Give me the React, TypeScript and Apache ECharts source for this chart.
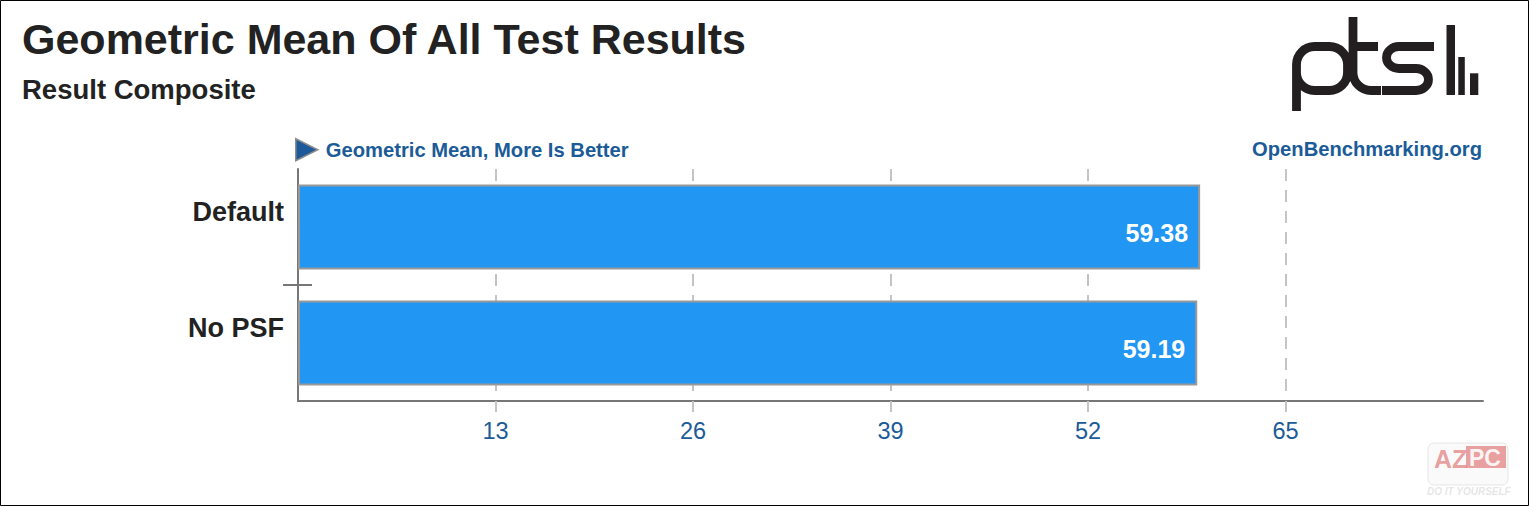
import React, { useEffect, useRef } from "react";
import * as echarts from "echarts";

const categories = ["Default", "No PSF"];
const values = [59.38, 59.19];
const seriesName = "Geometric Mean, More Is Better";
const axisMin = 0;
const axisMax = 78;
const axisInterval = 13;
const tickValues = [13, 26, 39, 52, 65];
const titleText = "Geometric Mean Of All Test Results";
const subtitleText = "Result Composite";
const siteText = "OpenBenchmarking.org";

const FONT = "'Liberation Sans', Arial, Helvetica, sans-serif";
const BLUE = "#1b5b97";

const LOGO_STROKE =
  "M1296.5,111 L1296.5,64.5 A18,18 0 0 1 1314.5,46.5 L1329.5,46.5 A18,18 0 0 1 1347.5,64.5 L1347.5,72.5 A18,18 0 0 1 1329.5,90.5 L1314.5,90.5 A18,18 0 0 1 1296.5,72.5 " +
  "M1353,17 L1353,72.5 A18,18 0 0 0 1371,90.5 L1381,90.5 M1349,46.5 L1378,46.5 " +
  "M1434,46.5 L1399,46.5 A12.5,11 0 0 0 1386.5,57.5 A12.5,11 0 0 0 1399,68.5 L1416,68.5 A12.5,11 0 0 1 1428.5,79.5 A12.5,11 0 0 1 1416,90.5 L1382,90.5";

let registered = false;
function registerShapes() {
  if (registered) return;
  echarts.graphic.registerShape("ptsLogo", echarts.graphic.extendPath(LOGO_STROKE, {}));
  registered = true;
}

export default function App() {
  const ref = useRef<HTMLDivElement>(null);
  useEffect(() => {
    if (!ref.current) return;
    registerShapes();
    const chart = echarts.init(ref.current, undefined, { renderer: "svg" });
    const option: any = {
      animation: false,
      backgroundColor: "#fff",
      textStyle: { fontFamily: FONT },
      title: [
        {
          text: titleText,
          left: 22,
          top: 17,
          padding: 0,
          textStyle: { fontSize: 43, fontWeight: "bold", color: "#222", fontFamily: FONT },
        },
        {
          text: subtitleText,
          left: 22,
          top: 75,
          padding: 0,
          textStyle: { fontSize: 27.5, fontWeight: "bold", color: "#222", fontFamily: FONT },
        },
        {
          text: siteText,
          right: 47,
          top: 139,
          padding: 0,
          textStyle: { fontSize: 20.2, fontWeight: "bold", color: BLUE, fontFamily: FONT },
        },
      ],
      legend: {
        data: [seriesName],
        left: 295,
        top: 138,
        padding: 0,
        itemWidth: 26,
        itemHeight: 22,
        itemGap: 7,
        icon: "path://M0,0 L10,5 L0,10 Z",
        itemStyle: { color: "#1e5a9a", borderColor: "#8c8c8c", borderWidth: 1.5 },
        textStyle: { fontSize: 20.2, fontWeight: "bold", color: BLUE, fontFamily: FONT, padding: [0, 0, 0, 1] },
        selectedMode: false,
      },
      grid: { left: 298, right: 46, top: 169, bottom: 105, containLabel: false },
      xAxis: {
        type: "value",
        min: axisMin,
        max: axisMax,
        interval: axisInterval,
        axisLine: { show: true, lineStyle: { color: "#777", width: 2 } },
        axisTick: { show: true, customValues: tickValues, length: 11, lineStyle: { color: "#c4c4c4", width: 2 } },
        axisLabel: {
          customValues: tickValues,
          color: BLUE,
          fontSize: 23.5,
          margin: 18,
          fontFamily: FONT,
        },
        splitLine: {
          show: true,
          showMinLine: true,
          showMaxLine: true,
          lineStyle: { color: "#c4c4c4", width: 2, type: [12, 9] },
        },
      },
      yAxis: {
        type: "category",
        data: categories,
        inverse: true,
        axisLine: { show: true, lineStyle: { color: "#777", width: 2 } },
        axisTick: { show: false },
        splitLine: { show: false },
        axisLabel: {
          fontSize: 27,
          fontWeight: "bold",
          color: "#222",
          margin: 14,
          verticalAlign: "bottom",
          lineHeight: 30,
          fontFamily: FONT,
        },
      },
      series: [
        {
          name: seriesName,
          type: "bar",
          data: values,
          barWidth: 85,
          itemStyle: { color: "#2196f3", borderColor: "#999", borderWidth: 2 },
          label: {
            show: true,
            position: "insideRight",
            distance: 12,
            offset: [0, 6],
            color: "#fff",
            fontSize: 25,
            fontWeight: "bold",
            fontFamily: FONT,
            formatter: (p: any) => Number(p.value).toFixed(2),
          },
          z: 3,
        },
        {
          name: "boundaryTick",
          type: "custom",
          clip: false,
          silent: true,
          z: 4,
          data: categories.slice(1).map((_, i) => [axisMin, i + 1]),
          renderItem: (params: any, api: any) => {
            const p = api.coord([api.value(0), api.value(1)]);
            const s = api.size([0, 1]);
            const y = p[1] - s[1] / 2;
            return {
              type: "line",
              shape: { x1: p[0] - 15, y1: y, x2: p[0] + 14, y2: y },
              style: { stroke: "#777", lineWidth: 2 },
            };
          },
        },
      ],
      graphic: [
        {
          type: "rect",
          shape: { x: 0.5, y: 0.5, width: 1528, height: 505 },
          style: { fill: null, stroke: "#000", lineWidth: 1 },
          silent: true,
          z: 100,
        },
        {
          type: "ptsLogo",
          x: 0,
          y: 0,
          style: { fill: null, stroke: "#231f20", lineWidth: 8.8, lineCap: "butt", lineJoin: "miter" },
          silent: true,
        },
        { type: "rect", shape: { x: 1446.5, y: 25, width: 8.5, height: 70 }, style: { fill: "#231f20" }, silent: true },
        { type: "rect", shape: { x: 1458.3, y: 57, width: 6.5, height: 38 }, style: { fill: "#231f20" }, silent: true },
        { type: "rect", shape: { x: 1470, y: 73.3, width: 8.3, height: 21.7 }, style: { fill: "#231f20" }, silent: true },
        {
          type: "group",
          silent: true,
          children: [
            {
              type: "rect",
              shape: { x: 1428, y: 443, width: 80, height: 42, r: 6 },
              style: { fill: "rgba(240,240,240,0.35)", stroke: "rgba(215,215,215,0.6)", lineWidth: 1 },
            },
            {
              type: "text",
              x: 1434,
              y: 446,
              style: { text: "AZ", fill: "rgba(220,100,100,0.6)", font: `bold 25px ${FONT}` },
            },
            {
              type: "rect",
              shape: { x: 1466, y: 446, width: 40, height: 22 },
              style: { fill: "rgba(220,100,100,0.6)" },
            },
            {
              type: "text",
              x: 1469,
              y: 446,
              style: { text: "PC", fill: "rgba(255,255,255,0.9)", font: `bold 23px ${FONT}` },
            },
            {
              type: "text",
              x: 1427,
              y: 486,
              style: { text: "DO IT YOURSELF", fill: "rgba(200,200,200,0.45)", font: `italic bold 10px ${FONT}` },
            },
          ],
        },
      ],
    };
    chart.setOption(option);
    return () => chart.dispose();
  }, []);
  return (
    <div
      ref={ref}
      style={{ position: "fixed", left: 0, top: 0, width: 1529, height: 506 }}
    />
  );
}
